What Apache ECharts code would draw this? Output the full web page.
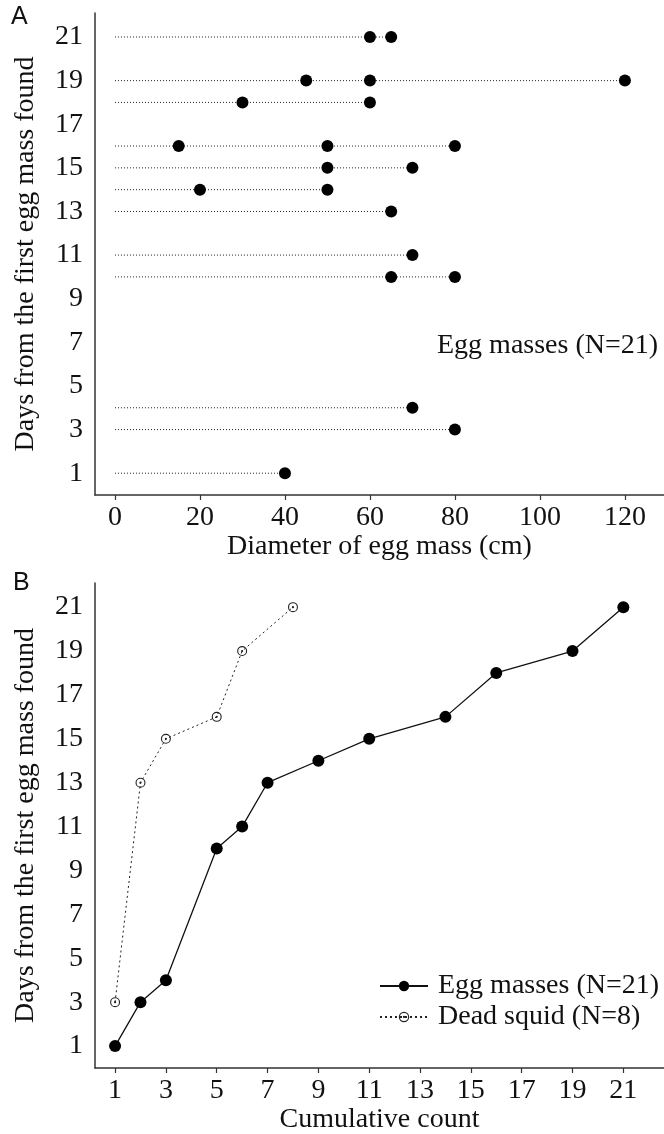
<!DOCTYPE html>
<html>
<head>
<meta charset="utf-8">
<script src="https://cdn.jsdelivr.net/npm/echarts@6.0.0/dist/echarts.min.js"></script>
<style>
html, body { margin: 0; padding: 0; background: #fff; }
#main { width: 664px; height: 1134px; }
</style>
</head>
<body>
<div id="main"></div>
<script>
// panel A: day each egg mass was found and its diameter (cm)
const eggDay = [21, 21, 19, 19, 19, 18, 18, 16, 16, 16, 15, 15, 14, 14, 13, 11, 10, 10, 4, 3, 1];
const eggDiameter = [60, 65, 45, 60, 120, 30, 60, 15, 50, 80, 50, 70, 20, 50, 65, 70, 65, 80, 70, 80, 40];

// panel B: cumulative counts
const eggCumCount = [1, 2, 3, 5, 6, 7, 9, 11, 14, 16, 19, 21];
const eggCumDay = [1, 3, 4, 10, 11, 13, 14, 15, 16, 18, 19, 21];
const squidCumCount = [1, 2, 3, 5, 6, 8];
const squidCumDay = [3, 13, 15, 16, 19, 21];

const dayTicks = [1, 3, 5, 7, 9, 11, 13, 15, 17, 19, 21];
const diameterTicks = [0, 20, 40, 60, 80, 100, 120];
const countTicks = [1, 3, 5, 7, 9, 11, 13, 15, 17, 19, 21];

const serif = 'Liberation Serif';
const txt = '#111';
const axisColor = '#333';
const fs = 28;

// one dotted guide per day, from 0 to the biggest egg mass of that day
const guideDays = [];
const guideMax = [];
eggDay.forEach(function (d, i) {
  const k = guideDays.indexOf(d);
  if (k < 0) {
    guideDays.push(d);
    guideMax.push(eggDiameter[i]);
  } else {
    guideMax[k] = Math.max(guideMax[k], eggDiameter[i]);
  }
});

// open circle with a dot in the middle
const circleDot = 'path://M0,-5A5,5,0,1,1,0,5A5,5,0,1,1,0,-5ZM0,-3.9A3.9,3.9,0,1,0,0,3.9A3.9,3.9,0,1,0,0,-3.9ZM0,-1.1A1.1,1.1,0,1,1,0,1.1A1.1,1.1,0,1,1,0,-1.1Z';

function axisBase(gridIndex, min, max, ticks, name, nameGap, withTicks) {
  return {
    gridIndex: gridIndex,
    type: 'value',
    min: min,
    max: max,
    name: name,
    nameLocation: 'middle',
    nameGap: nameGap,
    nameTextStyle: { fontFamily: serif, fontSize: fs, color: txt },
    axisLine: { show: true, onZero: false, lineStyle: { color: axisColor, width: 1.5 } },
    axisTick: { show: withTicks, length: 5, customValues: ticks, lineStyle: { color: axisColor, width: 1.2 } },
    axisLabel: { customValues: ticks, fontFamily: serif, fontSize: fs, color: txt, margin: withTicks ? 9 : 12 },
    splitLine: { show: false }
  };
}

const chart = echarts.init(document.getElementById('main'));
chart.setOption({
  animation: false,
  backgroundColor: '#fff',
  title: [
    { text: 'A', left: 11, top: 5, padding: 0, textStyle: { fontFamily: 'Liberation Sans', fontSize: 25, fontWeight: 'normal', color: txt } },
    { text: 'B', left: 13, top: 571, padding: 0, textStyle: { fontFamily: 'Liberation Sans', fontSize: 25, fontWeight: 'normal', color: txt } },
    { text: 'Egg masses (N=21)', left: 437, top: 332, padding: 0, textStyle: { fontFamily: serif, fontSize: fs, fontWeight: 'normal', color: txt } }
  ],
  legend: {
    orient: 'vertical',
    left: 379,
    top: 972,
    padding: 0,
    itemWidth: 48,
    itemHeight: 13,
    itemGap: 3,
    data: ['Egg masses (N=21)', 'Dead squid (N=8)'],
    textStyle: { fontFamily: serif, fontSize: fs, color: txt, lineHeight: 28, padding: [0, 0, 0, 5] }
  },
  grid: [
    { left: 95, top: 13, width: 569, height: 482, outerBoundsMode: 'none' },
    { left: 95, top: 583, width: 569, height: 485, outerBoundsMode: 'none' }
  ],
  xAxis: [
    axisBase(0, -4.7, 129.2, diameterTicks, 'Diameter of egg mass (cm)', 35, true),
    axisBase(1, 0.21, 22.6, countTicks, 'Cumulative count', 34, true)
  ],
  yAxis: [
    axisBase(0, 0, 22.1, dayTicks, 'Days from the first egg mass found', 55, false),
    axisBase(1, 0, 22.1, dayTicks, 'Days from the first egg mass found', 55, false)
  ],
  series: [
    {
      type: 'custom',
      name: 'guides',
      xAxisIndex: 0,
      yAxisIndex: 0,
      silent: true,
      z: 1,
      renderItem: function (params, api) {
        const a = api.coord([0, api.value(1)]);
        const b = api.coord([api.value(0), api.value(1)]);
        return {
          type: 'line',
          shape: { x1: a[0], y1: a[1], x2: b[0], y2: b[1] },
          style: { stroke: '#222', lineWidth: 1, lineDash: [1, 2] }
        };
      },
      data: guideDays.map(function (d, k) { return [guideMax[k], d]; })
    },
    {
      type: 'scatter',
      name: 'diameter',
      xAxisIndex: 0,
      yAxisIndex: 0,
      z: 3,
      symbol: 'circle',
      symbolSize: 12,
      itemStyle: { color: '#000', opacity: 1 },
      data: eggDay.map(function (d, i) { return [eggDiameter[i], d]; })
    },
    {
      type: 'line',
      name: 'Egg masses (N=21)',
      xAxisIndex: 1,
      yAxisIndex: 1,
      symbol: 'circle',
      symbolSize: 12,
      lineStyle: { color: '#111', width: 1.3 },
      itemStyle: { color: '#000' },
      data: eggCumCount.map(function (c, i) { return [c, eggCumDay[i]]; })
    },
    {
      type: 'line',
      name: 'Dead squid (N=8)',
      xAxisIndex: 1,
      yAxisIndex: 1,
      symbol: circleDot,
      symbolSize: 10,
      lineStyle: { color: '#222', width: 1, type: [2, 3] },
      itemStyle: { color: '#222' },
      data: squidCumCount.map(function (c, i) { return [c, squidCumDay[i]]; })
    }
  ]
});
</script>
</body>
</html>
